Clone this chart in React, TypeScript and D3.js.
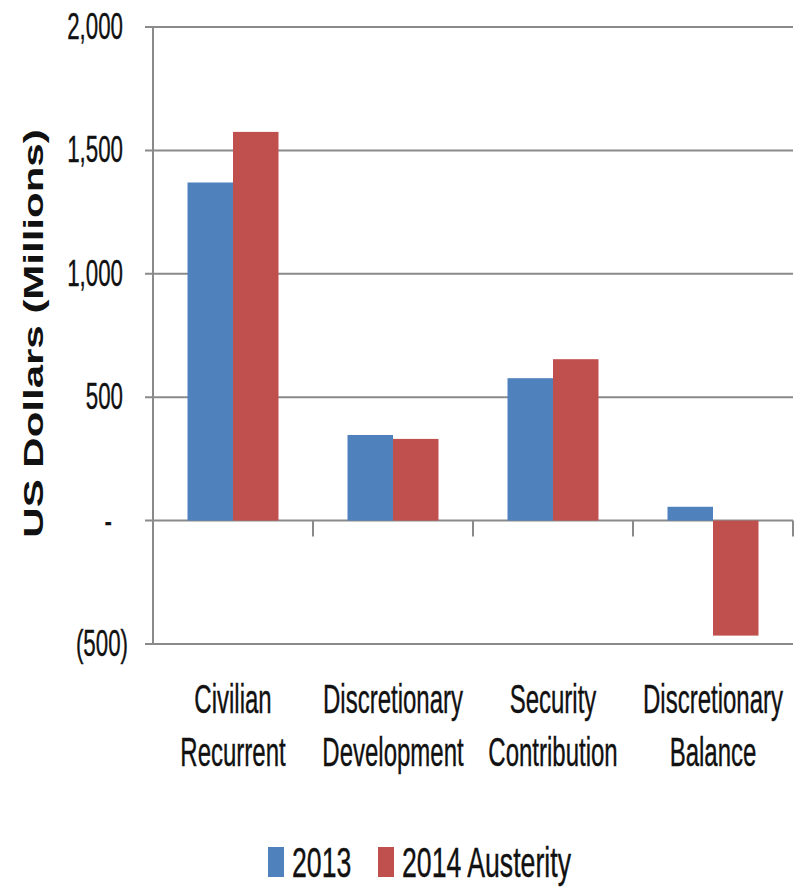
import React from "react";
import * as d3 from "d3";

const categories: string[][] = [
  ["Civilian", "Recurrent"],
  ["Discretionary", "Development"],
  ["Security", "Contribution"],
  ["Discretionary", "Balance"],
];
const seriesNames = ["2013", "2014 Austerity"];
const values2013 = [1370, 347, 577, 56];
const values2014 = [1575, 331, 654, -466];
const yTicks = [2000, 1500, 1000, 500, 0, -500];
const yTickLabels = ["2,000", "1,500", "1,000", "500", "-", "(500)"];
const colors = ["#4F81BD", "#C0504D"];

const FONT = "'Liberation Sans', Arial, sans-serif";
const GRID = "#8a8a8a";

export default function App() {
  const W = 800, H = 887;
  const left = 153, right = 793, top = 27, bottom = 644;
  const y = d3.scaleLinear().domain([-500, 2000]).range([bottom, top]);
  const keys = categories.map((c, i) => c.join(" ") + "|" + i);
  const x0 = d3.scaleBand<string>().domain(keys).range([left, right]).padding(0);
  const x1 = d3.scaleBand<string>().domain(seriesNames).range([34.5, x0.bandwidth() - 34.5]).padding(0);
  const series = [values2013, values2014];
  const y0 = y(0);

  return (
    <svg width={W} height={H} style={{ position: "absolute", left: 0, top: 0, background: "#fff" }}>
      {yTicks.map((t) => (
        <line key={"g" + t} x1={left - 8} x2={right} y1={y(t)} y2={y(t)} stroke={GRID} strokeWidth={2} />
      ))}
      <line x1={left} x2={left} y1={top} y2={bottom} stroke={GRID} strokeWidth={2} />
      {[...keys.map((k) => x0(k) as number), right].map((xv, i) => (
        <line key={"ct" + i} x1={xv} x2={xv} y1={y0} y2={y0 + 16} stroke={GRID} strokeWidth={2} />
      ))}
      {keys.map((k, i) =>
        seriesNames.map((s, j) => {
          const v = series[j][i];
          const bx = (x0(k) as number) + (x1(s) as number);
          return (
            <rect
              key={k + s}
              x={bx}
              width={x1.bandwidth()}
              y={Math.min(y(v), y0)}
              height={Math.abs(y(v) - y0)}
              fill={colors[j]}
            />
          );
        })
      )}
      {yTicks.map((t, i) => {
        const lbl = yTickLabels[i];
        const ex = lbl.startsWith("(") ? 128 : lbl === "-" ? 112 : 123;
        return (
          <g key={"yl" + t} transform={`translate(${ex},${y(t) + 12}) scale(0.62,1)`}>
            <text textAnchor="end" fontFamily={FONT} fontSize={36} fill="#111" stroke="#111" strokeWidth={0.4}>
              {lbl}
            </text>
          </g>
        );
      })}
      <g transform={`translate(43,${(130 + 537) / 2}) rotate(-90) scale(1.5,1)`}>
        <text textAnchor="middle" fontFamily={FONT} fontWeight="bold" fontSize={28} fill="#111">
          US Dollars (Millions)
        </text>
      </g>
      {keys.map((k, i) =>
        categories[i].map((line, li) => (
          <g
            key={k + li}
            transform={`translate(${(x0(k) as number) + x0.bandwidth() / 2},${713 + li * 53}) scale(0.6,1)`}
          >
            <text textAnchor="middle" fontFamily={FONT} fontSize={40} fill="#111" stroke="#111" strokeWidth={0.4}>
              {line}
            </text>
          </g>
        ))
      )}
      {seriesNames.map((s, j) => {
        const lx = j === 0 ? 268 : 378;
        return (
          <g key={"lg" + s}>
            <rect x={lx} y={847} width={16} height={30} fill={colors[j]} />
            <g transform={`translate(${lx + 24},877) scale(0.635,1)`}>
              <text fontFamily={FONT} fontSize={42} fill="#111" stroke="#111" strokeWidth={0.4}>
                {s}
              </text>
            </g>
          </g>
        );
      })}
    </svg>
  );
}
